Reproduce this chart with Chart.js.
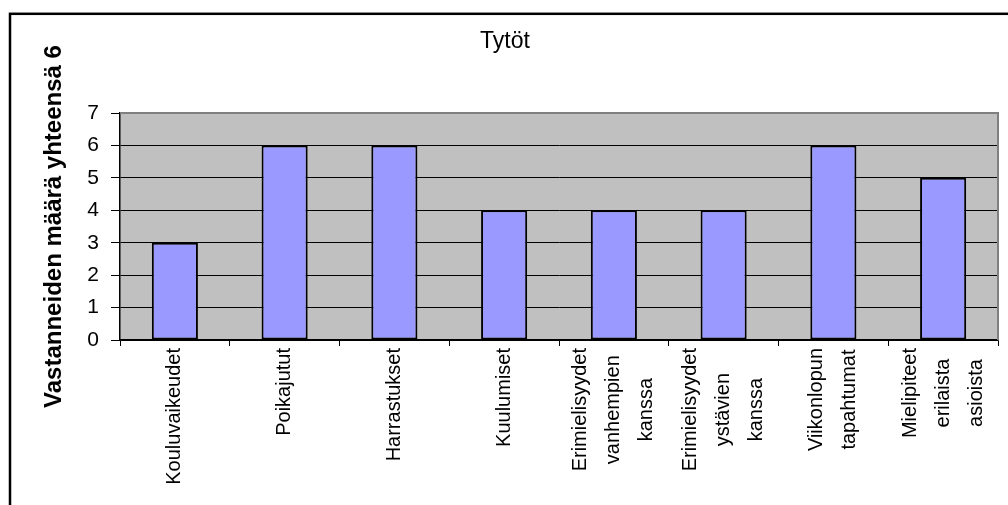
<!DOCTYPE html>
<html>
<head>
<meta charset="utf-8">
<script src="https://cdn.jsdelivr.net/npm/chart.js@4/dist/chart.umd.min.js"></script>
<style>
  body { margin: 0; background: #fff; }
  #wrap { width: 1008px; height: 505px; position: relative; }
</style>
</head>
<body>
<div id="wrap"><canvas id="barChart"></canvas></div>
<script>
var categories = [
    ["Kouluvaikeudet"],
    ["Poikajutut"],
    ["Harrastukset"],
    ["Kuulumiset"],
    ["Erimielisyydet", "vanhempien", "kanssa"],
    ["Erimielisyydet", "ystävien", "kanssa"],
    ["Viikonlopun", "tapahtumat"],
    ["Mielipiteet", "erilaista", "asioista"]
];
var answers = [3, 6, 6, 4, 4, 4, 6, 5];
var yMin = 0, yMax = 7, yStep = 1;
var chartTitle = "Tytöt";
var yTitle = "Vastanneiden määrä yhteensä 6";

var fontFamily = '"Liberation Sans", Arial, sans-serif';

// outer frame + grey plot background
var backdrop = {
    id: "backdrop",
    beforeDraw: function(chart) {
        var ctx = chart.ctx, a = chart.chartArea;
        ctx.save();
        ctx.lineWidth = 2.5;
        ctx.strokeStyle = "#000";
        ctx.strokeRect(10, 13.8, 1200, 700);
        ctx.fillStyle = "#C0C0C0";
        ctx.fillRect(a.left, a.top, a.right - a.left, a.bottom - a.top);
        ctx.restore();
    },
    afterDatasetsDraw: function(chart) {
        var ctx = chart.ctx, a = chart.chartArea;
        ctx.save();
        ctx.strokeStyle = "#808080";
        ctx.lineWidth = 2;
        ctx.beginPath();
        ctx.moveTo(a.left, a.top);
        ctx.lineTo(a.right, a.top);
        ctx.lineTo(a.right, a.bottom);
        ctx.stroke();
        ctx.restore();
    }
};

// category labels: rotated, lines centred like the original
var xLabels = {
    id: "xLabels",
    afterDraw: function(chart) {
        var ctx = chart.ctx, xs = chart.scales.x;
        ctx.save();
        ctx.font = "20px " + fontFamily;
        ctx.fillStyle = "#000";
        ctx.textAlign = "center";
        ctx.textBaseline = "middle";
        categories.forEach(function(lines, i) {
            var cx = xs.getPixelForValue(i);
            var maxW = Math.max.apply(null, lines.map(function(l) { return ctx.measureText(l).width; }));
            var cy = xs.top + 8 + maxW / 2;
            lines.forEach(function(line, j) {
                ctx.save();
                ctx.translate(cx + (j - (lines.length - 1) / 2) * 33, cy);
                ctx.rotate(-Math.PI / 2);
                ctx.fillText(line, 0, 0);
                ctx.restore();
            });
        });
        ctx.restore();
    }
};

var ctx = document.getElementById("barChart").getContext("2d");
new Chart(ctx, {
    type: "bar",
    data: {
        labels: categories,
        datasets: [{
            data: answers,
            backgroundColor: "#9999FF",
            borderColor: "#000",
            borderWidth: 2,
            borderSkipped: false,
            barPercentage: 0.42,
            categoryPercentage: 1
        }]
    },
    options: {
        responsive: true,
        maintainAspectRatio: false,
        animation: false,
        devicePixelRatio: 1,
        layout: { padding: { left: 12, right: 10, top: 0, bottom: 0 } },
        plugins: {
            legend: { display: false },
            tooltip: { enabled: false },
            title: {
                display: true,
                text: chartTitle,
                color: "#000",
                font: { family: fontFamily, size: 23, weight: "normal" },
                padding: { top: 27.4, bottom: 58 }
            }
        },
        scales: {
            x: {
                afterFit: function(scale) { scale.height = 165; },
                ticks: { display: false },
                grid: {
                    offset: true,
                    drawOnChartArea: false,
                    tickLength: 6,
                    color: "#000"
                },
                border: { color: "#000", width: 1.5 }
            },
            y: {
                min: yMin,
                max: yMax,
                afterFit: function(scale) { scale.width = 108; },
                ticks: {
                    stepSize: yStep,
                    padding: 12,
                    color: "#000",
                    font: { family: fontFamily, size: 21 }
                },
                grid: {
                    color: function(c) { return c.tick && c.tick.value === yMax ? "#808080" : "#000"; },
                    tickColor: "#000",
                    tickLength: 9,
                    lineWidth: 1
                },
                border: { color: "#000", width: 1.5 },
                title: {
                    display: true,
                    text: yTitle,
                    color: "#000",
                    font: { family: fontFamily, size: 24, weight: "bold" },
                    padding: { top: 27.6, bottom: 0 }
                }
            }
        }
    },
    plugins: [backdrop, xLabels]
});
</script>
</body>
</html>
